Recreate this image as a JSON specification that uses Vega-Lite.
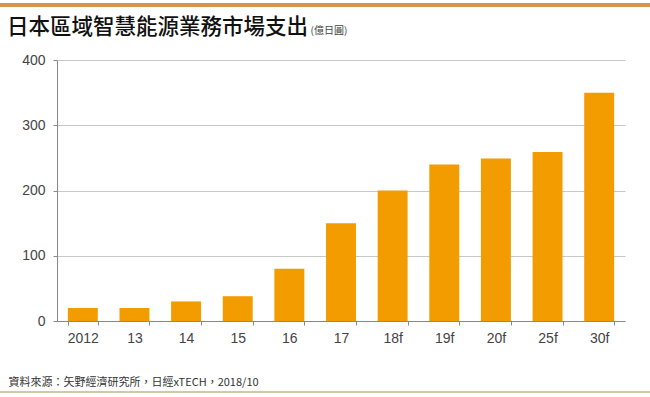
{
  "$schema": "https://vega.github.io/schema/vega-lite/v6.json",
  "autosize": "none",
  "width": 568,
  "height": 261,
  "padding": {"left": 57, "top": 60, "right": 25, "bottom": 76},
  "background": "#ffffff",
  "title": {
    "text": "日本區域智慧能源業務市場支出",
    "anchor": "start",
    "frame": "group",
    "dx": -50,
    "dy": 20,
    "offset": -15,
    "font": "Noto Sans CJK TC",
    "fontSize": 21.5,
    "fontWeight": 500,
    "color": "#111111"
  },
  "data": {
    "values": [
      {"year": "2012", "value": 20},
      {"year": "13", "value": 20},
      {"year": "14", "value": 30},
      {"year": "15", "value": 38},
      {"year": "16", "value": 80},
      {"year": "17", "value": 150},
      {"year": "18f", "value": 200},
      {"year": "19f", "value": 240},
      {"year": "20f", "value": 249},
      {"year": "25f", "value": 259},
      {"year": "30f", "value": 350}
    ]
  },
  "layer": [
    {
      "mark": {"type": "bar", "color": "#F39C00"},
      "encoding": {
        "x": {
          "field": "year",
          "type": "ordinal",
          "sort": null,
          "scale": {"paddingInner": 0.42, "paddingOuter": 0.21},
          "axis": {
            "title": "資料來源：矢野經濟研究所，日經xTECH，2018/10",
            "titleFont": "Noto Sans CJK TC",
            "titleFontSize": 11,
            "titleFontWeight": "normal",
            "titleColor": "#333333",
            "titleAlign": "left",
            "titleAnchor": "start",
            "titleBaseline": "alphabetic",
            "titleX": -49,
            "titleY": 64,
            "labelAngle": 0,
            "labelFont": "Liberation Sans",
            "labelFontSize": 14,
            "labelColor": "#444444",
            "labelPadding": 6,
            "tickBand": "extent",
            "tickColor": "#888888",
            "tickSize": 4,
            "domainColor": "#888888",
            "grid": false
          }
        },
        "y": {
          "field": "value",
          "type": "quantitative",
          "scale": {"domain": [0, 400]},
          "axis": {
            "values": [0, 100, 200, 300, 400],
            "title": "(億日圓)",
            "titleFont": "Noto Sans CJK TC",
            "titleFontSize": 10,
            "titleFontWeight": "normal",
            "titleColor": "#444444",
            "titleAngle": 0,
            "titleAlign": "left",
            "titleBaseline": "alphabetic",
            "titleX": 253,
            "titleY": -27,
            "labelFont": "Liberation Sans",
            "labelFontSize": 14,
            "labelColor": "#444444",
            "labelPadding": 8,
            "tickColor": "#888888",
            "tickSize": 4,
            "domainColor": "#888888",
            "gridColor": "#c8c8c8"
          }
        }
      }
    },
    {
      "mark": {"type": "rule", "color": "#D4964A", "strokeWidth": 3, "clip": false},
      "encoding": {
        "x": {"value": -57},
        "x2": {"value": 593},
        "y": {"value": -55}
      }
    },
    {
      "mark": {"type": "rule", "color": "#CFC8A8", "strokeWidth": 1.5, "clip": false},
      "encoding": {
        "x": {"value": -57},
        "x2": {"value": 593},
        "y": {"value": 332}
      }
    }
  ],
  "config": {"view": {"stroke": null}}
}
